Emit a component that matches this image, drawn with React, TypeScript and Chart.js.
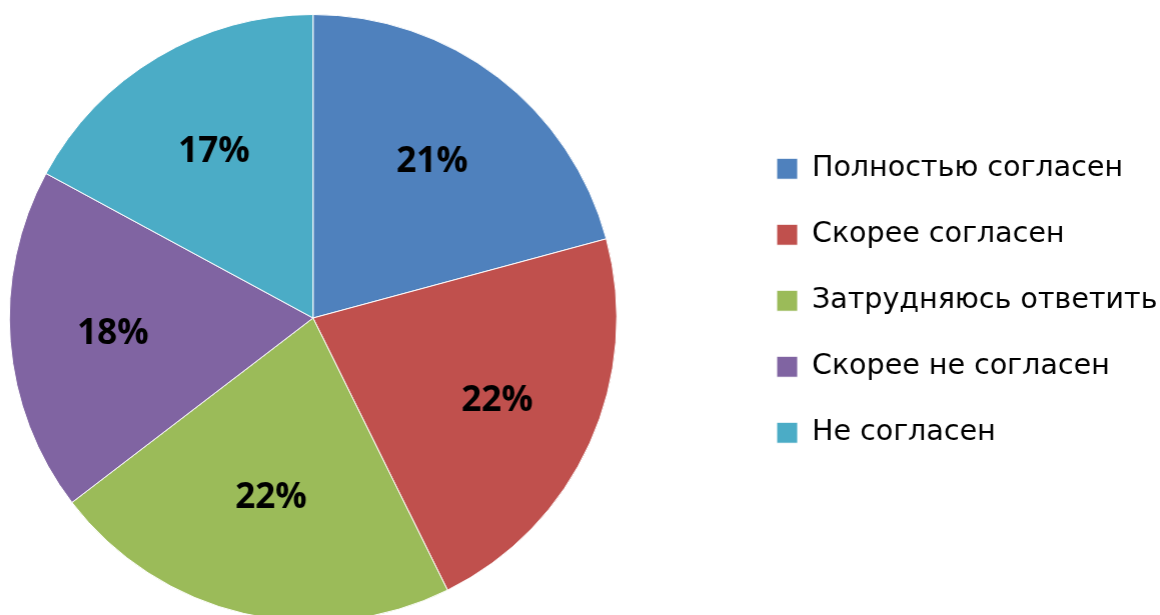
import React, { useEffect, useRef } from "react";
import { Chart, registerables } from "chart.js";

Chart.register(...registerables);

const categories = [
  "Полностью согласен",
  "Скорее согласен",
  "Затрудняюсь ответить",
  "Скорее не согласен",
  "Не согласен",
];
const shares = [20.8, 21.9, 21.9, 18.3, 17.1];
const colors = ["#4F81BD", "#C0504D", "#9BBB59", "#8064A2", "#4BACC6"];

const W = 1160;
const H = 615;
const LEGEND_FONT = "'DejaVu Sans', 'Open Sans', sans-serif";
const LABEL_FONT = "'Open Sans', 'Noto Sans', sans-serif";
const LEGEND_SIZE = 28.5;
const LABEL_SIZE = 35;
const LABEL_INNER = 0.54; // radius fraction reached by the label box's inner edge

// geometry (page coordinates)
const CX = 313.3;
const TOP = 14;
const PIE_H = 608;
const BOX_X = 777;
const BOX_W = 21;
const ROW = 66;
const FIRST_Y = 154.5;
const EXTRA_R = 120;

const sliceLabels = {
  id: "sliceLabels",
  afterDatasetsDraw(chart: any) {
    const meta = chart.getDatasetMeta(0);
    const total = shares.reduce((a, b) => a + b, 0);
    const ctx = chart.ctx;
    ctx.save();
    ctx.font = `bold ${LABEL_SIZE}px ${LABEL_FONT}`;
    ctx.fillStyle = "#000";
    ctx.textAlign = "center";
    ctx.textBaseline = "middle";
    meta.data.forEach((arc: any, i: number) => {
      const { x, y, startAngle, endAngle, outerRadius } = arc.getProps(
        ["x", "y", "startAngle", "endAngle", "outerRadius"],
        true
      );
      const text = `${Math.round((shares[i] / total) * 100)}%`;
      const hw = ctx.measureText(text).width / 2;
      const hh = LABEL_SIZE * 0.37;
      const mid = (startAngle + endAngle) / 2;
      const c = Math.cos(mid);
      const s = Math.sin(mid);
      const r = outerRadius * LABEL_INNER + hw * Math.abs(c) + hh * Math.abs(s);
      ctx.fillText(text, x + c * r, y + s * r);
    });
    ctx.restore();
  },
};

const pad = ROW - LEGEND_SIZE;
const legendLeft = BOX_X - pad; // page coords
const OFF = Math.max(0, legendLeft - 2 * CX); // canvas shifted left by this
const CW = OFF + W + EXTRA_R;
const CH = TOP + PIE_H;

export default function App() {
  const ref = useRef<HTMLCanvasElement | null>(null);

  useEffect(() => {
    document.body.style.margin = "0";
    document.body.style.overflow = "hidden";
    const canvas = ref.current!;
    const measure = document.createElement("canvas").getContext("2d")!;
    measure.font = `normal ${LEGEND_SIZE}px ${LEGEND_FONT}`;
    const maxText = Math.max(...categories.map((c) => measure.measureText(c).width));

    const legendWidth = pad + BOX_W + LEGEND_SIZE / 2 + maxText + 10;
    const padRight = CW - (legendLeft + OFF) - legendWidth;
    const titleH = FIRST_Y - TOP - pad;

    const chart = new Chart(canvas, {
      type: "pie",
      data: {
        labels: categories,
        datasets: [
          {
            data: shares,
            backgroundColor: colors,
            borderColor: "#ffffff",
            borderWidth: 1,
          },
        ],
      },
      plugins: [sliceLabels],
      options: {
        responsive: false,
        animation: false,
        devicePixelRatio: 1,
        layout: {
          padding: { left: 0, right: padRight, top: TOP, bottom: 0 },
        },
        plugins: {
          tooltip: { enabled: false },
          legend: {
            position: "right",
            align: "start",
            title: {
              display: true,
              text: " ",
              font: { size: 10, lineHeight: 1 },
              padding: { top: titleH - 10, bottom: 0 },
            },
            labels: {
              boxWidth: BOX_W,
              boxHeight: BOX_W,
              padding: pad,
              color: "#000",
              font: { family: LEGEND_FONT, size: LEGEND_SIZE },
            },
          },
        },
      },
    });
    return () => chart.destroy();
  }, []);

  return (
    <div style={{ position: "fixed", left: 0, top: 0, width: W, height: H, overflow: "hidden", background: "#fff" }}>
      <canvas
        ref={ref}
        width={CW}
        height={CH}
        style={{ position: "absolute", left: -OFF, top: 0, width: CW, height: CH, display: "block" }}
      />
    </div>
  );
}
